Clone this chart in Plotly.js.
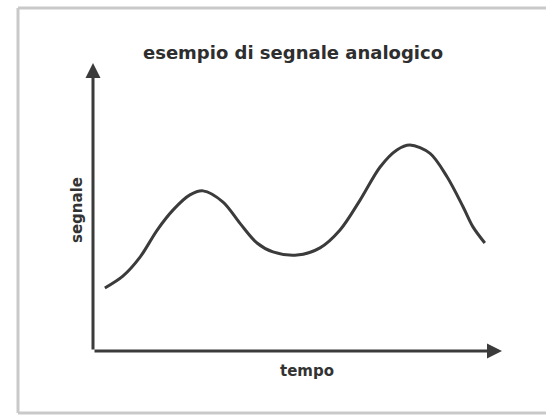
<!DOCTYPE html>
<html>
<head>
<meta charset="utf-8">
<script src="https://cdn.plot.ly/plotly-3.0.1.min.js"></script>
<style>
  html, body { margin: 0; padding: 0; background: #ffffff; overflow: hidden; }
  #chart { width: 546px; height: 415px; }
</style>
</head>
<body>
<div id="chart"></div>
<script>
// Data (tempo 0-100, segnale 0-100)
const tempo = [2.9, 7.3, 11.5, 15.7, 19.6, 23.7, 26.9, 31.8, 35.9, 40.1, 44.0, 49.9, 55.5, 60.4, 65.3, 70.2, 74.3, 77.5, 82.4, 86.6, 90.5, 92.9, 95.8];
const segnale = [21.9, 26.0, 32.6, 42.0, 49.0, 54.2, 55.6, 51.7, 44.4, 37.5, 34.4, 33.3, 35.8, 42.0, 52.4, 63.9, 69.8, 71.5, 68.6, 60.4, 50.0, 43.1, 37.5];

const chartTitle = "esempio di segnale analogico";
const xTitle = "tempo";
const yTitle = "segnale";

const ink = "#3b3b3b";
const font = "DejaVu Sans, Verdana, sans-serif";

const trace = {
  x: tempo,
  y: segnale,
  type: "scatter",
  mode: "lines",
  line: { shape: "spline", smoothing: 0.9, color: ink, width: 3 },
  hoverinfo: "skip"
};

// frame (picture border) in paper fractions of the plot area
const fx0 = (18 - 93) / 409, fx1 = (546 - 93) / 409;
const fy0 = (351 - 413) / 288, fy1 = (351 - 8) / 288;
const frameLine = { color: "#c9c9c9", width: 3 };

const layout = {
  width: 546,
  height: 415,
  margin: { l: 93, r: 44, t: 63, b: 64 },
  paper_bgcolor: "#ffffff",
  plot_bgcolor: "rgba(0,0,0,0)",
  showlegend: false,
  title: {
    text: "<b>" + chartTitle + "</b>",
    font: { family: font, size: 18, color: "#2e2e2e" },
    x: 293 / 546, xref: "container", xanchor: "center",
    y: 1 - 53 / 415, yref: "container", yanchor: "middle"
  },
  xaxis: { range: [0, 100], showgrid: false, zeroline: false, showline: false, showticklabels: false, ticks: "", fixedrange: true },
  yaxis: { range: [0, 100], showgrid: false, zeroline: false, showline: false, showticklabels: false, ticks: "", fixedrange: true },
  shapes: [
    { type: "line", xref: "paper", yref: "paper", x0: fx0, x1: fx1, y0: fy1, y1: fy1, line: frameLine, layer: "below" },
    { type: "line", xref: "paper", yref: "paper", x0: fx0, x1: fx0, y0: fy0, y1: fy1, line: frameLine, layer: "below" },
    { type: "line", xref: "paper", yref: "paper", x0: fx0, x1: fx1, y0: fy0, y1: fy0, line: frameLine, layer: "below" }
  ],
  annotations: [
    { // x axis arrow
      x: 100, y: 0, xref: "x", yref: "y",
      ax: 0, ay: 0, axref: "x", ayref: "y",
      showarrow: true, arrowhead: 2, arrowsize: 1, arrowwidth: 3, arrowcolor: ink,
      text: "", standoff: 0, startstandoff: 0
    },
    { // y axis arrow
      x: 0, y: 100, xref: "x", yref: "y",
      ax: 0, ay: 0, axref: "x", ayref: "y",
      showarrow: true, arrowhead: 2, arrowsize: 1, arrowwidth: 3, arrowcolor: ink,
      text: "", standoff: 0, startstandoff: 0
    },
    {
      text: "<b>" + xTitle + "</b>", showarrow: false,
      xref: "paper", yref: "paper",
      x: (307 - 93) / 409, y: (351 - 371) / 288,
      xanchor: "center", yanchor: "middle",
      font: { family: font, size: 15, color: "#333333" }
    },
    {
      text: "<b>" + yTitle + "</b>", showarrow: false, textangle: -90,
      xref: "paper", yref: "paper",
      x: (77 - 93) / 409, y: (351 - 210) / 288,
      xanchor: "center", yanchor: "middle",
      font: { family: font, size: 15, color: "#333333" }
    }
  ]
};

Plotly.newPlot("chart", [trace], layout, { displayModeBar: false, staticPlot: true });
</script>
</body>
</html>
